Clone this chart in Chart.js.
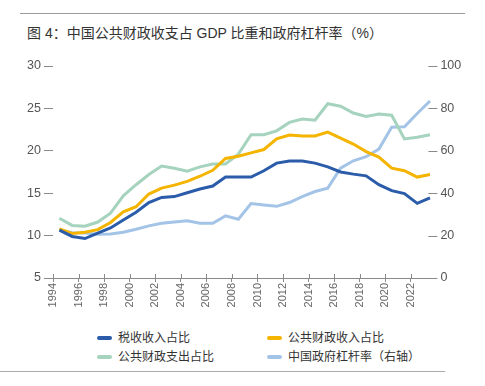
<!DOCTYPE html>
<html>
<head>
<meta charset="utf-8">
<script src="https://cdn.jsdelivr.net/npm/chart.js@4"></script>
<style>
  body { margin: 0; background: #fff; }
  #wrap { position: relative; width: 485px; height: 386px; overflow: hidden;
          font-family: 'Liberation Sans', 'Noto Sans CJK SC', sans-serif; }
  .rule { position: absolute; height: 1px; background: #9a9a9a; }
  #title { position: absolute; left: 27px; top: 24px; font-size: 14px; line-height: 18px; color: #333; white-space: nowrap; }
  #chart-box { position: absolute; left: 0; top: 40px; width: 485px; height: 285px; }
  .leg { position: absolute; font-size: 12px; line-height: 14px; color: #333; white-space: nowrap; }
  .leg i { display: inline-block; width: 15px; height: 4px; border-radius: 2px; vertical-align: middle; margin-right: 6px; position: relative; top: -1px; }
</style>
</head>
<body>
<div id="wrap">
  <div class="rule" style="left:20px; top:13px; width:445px;"></div>
  <div id="title">图 4：中国公共财政收支占 GDP 比重和政府杠杆率（%）</div>
  <div id="chart-box"><canvas id="fiscal-chart" width="485" height="285"></canvas></div>
  <div id="legend"></div>
  <div class="rule" style="left:0; top:371px; width:445px; background:#aaa;"></div>
</div>
<script>
// Data
const years = [1994, 1995, 1996, 1997, 1998, 1999, 2000, 2001, 2002, 2003,
               2004, 2005, 2006, 2007, 2008, 2009, 2010, 2011, 2012, 2013,
               2014, 2015, 2016, 2017, 2018, 2019, 2020, 2021, 2022, 2023];
const tickLabels = ['1994', '1996', '1998', '2000', '2002', '2004', '2006', '2008',
                    '2010', '2012', '2014', '2016', '2018', '2020', '2022'];

const taxShare = [10.65, 9.9, 9.65, 10.3, 10.9, 11.85, 12.75, 13.9, 14.5, 14.6,
                  15.05, 15.5, 15.85, 16.9, 16.9, 16.9, 17.65, 18.55, 18.8, 18.8,
                  18.55, 18.1, 17.5, 17.25, 17.05, 16.0, 15.3, 14.95, 13.8, 14.45];
const revenueShare = [10.8, 10.25, 10.4, 10.7, 11.55, 12.8, 13.4, 14.9, 15.6, 15.95,
                      16.4, 17.0, 17.7, 19.1, 19.35, 19.75, 20.15, 21.4, 21.85, 21.75,
                      21.75, 22.2, 21.5, 20.8, 19.9, 19.25, 17.95, 17.65, 16.9, 17.2];
const spendingShare = [12.05, 11.2, 11.1, 11.6, 12.65, 14.7, 16.0, 17.2, 18.2, 17.95,
                       17.6, 18.1, 18.45, 18.45, 19.6, 21.9, 21.9, 22.35, 23.35, 23.75,
                       23.6, 25.55, 25.25, 24.45, 24.05, 24.35, 24.2, 21.4, 21.6, 21.9];
const govLeverage = [22.8, 21.4, 21.2, 20.6, 20.8, 21.6, 23.0, 24.6, 25.8, 26.4,
                     27.0, 25.8, 25.8, 29.3, 27.7, 35.1, 34.4, 33.8, 35.6, 38.4,
                     40.8, 42.4, 51.8, 55.3, 57.2, 60.8, 71.1, 71.3, 77.6, 83.5];

const seriesNames = ['税收收入占比', '公共财政收入占比', '公共财政支出占比', '中国政府杠杆率（右轴）'];
const seriesColors = ['#2a5caa', '#f4b400', '#a5d3be', '#a3c4e6'];

const FONT = "'Liberation Sans', 'Noto Sans CJK SC', sans-serif";

function toPoints(values) {
    return values.map((v, i) => ({ x: years[i], y: v }));
}

// HTML legend, two columns
const legendPos = [[97, 331], [267, 331], [97, 350], [267, 350]];
const legendBox = document.getElementById('legend');
seriesNames.forEach((name, i) => {
    const d = document.createElement('div');
    d.className = 'leg';
    d.style.left = legendPos[i][0] + 'px';
    d.style.top = legendPos[i][1] + 'px';
    d.innerHTML = '<i style="background:' + seriesColors[i] + '"></i>' + name;
    legendBox.appendChild(d);
});

// short tick marks: x ticks crossing the axis, right-axis ticks pointing inward
const axisMarks = {
    id: 'axisMarks',
    afterDraw(chart) {
        const ctx = chart.ctx;
        const area = chart.chartArea;
        const xs = chart.scales.x;
        const yr = chart.scales.y1;
        ctx.save();
        ctx.strokeStyle = '#8a8a8a';
        ctx.lineWidth = 1;
        ctx.beginPath();
        xs.ticks.forEach(t => {
            const px = Math.round(xs.getPixelForValue(t.value)) + 0.5;
            ctx.moveTo(px, area.bottom - 4);
            ctx.lineTo(px, area.bottom);
        });
        yr.ticks.forEach(t => {
            const py = Math.round(yr.getPixelForValue(t.value)) + 0.5;
            ctx.moveTo(area.right - 8, py);
            ctx.lineTo(area.right + 1, py);
        });
        ctx.stroke();
        ctx.restore();
    }
};

const ctx = document.getElementById('fiscal-chart').getContext('2d');
const allSeries = [taxShare, revenueShare, spendingShare, govLeverage];

new Chart(ctx, {
    type: 'line',
    data: {
        datasets: allSeries.map((vals, i) => ({
            label: seriesNames[i],
            data: toPoints(vals),
            borderColor: seriesColors[i],
            backgroundColor: seriesColors[i],
            borderWidth: 3,
            pointRadius: 0,
            tension: 0,
            yAxisID: i === 3 ? 'y1' : 'y'
        }))
    },
    options: {
        responsive: false,
        animation: false,
        layout: { padding: { top: 26, left: 0, right: 0, bottom: 0 } },
        plugins: {
            legend: { display: false },
            title: { display: false },
            tooltip: { enabled: false }
        },
        scales: {
            x: {
                type: 'linear',
                min: years[0] - 0.5,
                max: years[years.length - 1] + 0.5,
                afterBuildTicks: (axis) => {
                    axis.ticks = tickLabels.map(l => ({ value: Number(l) - 0.5 }));
                },
                afterFit: (axis) => { axis.height = 47; },
                grid: { display: true, drawOnChartArea: false, drawTicks: true, tickLength: 4, color: '#8a8a8a' },
                border: { display: true, color: '#8a8a8a', width: 1 },
                ticks: {
                    autoSkip: false,
                    minRotation: 90,
                    maxRotation: 90,
                    padding: 1,
                    color: '#666',
                    font: { family: FONT, size: 11 },
                    callback: (value, index) => tickLabels[index] || ''
                }
            },
            y: {
                position: 'left',
                min: 5,
                max: 30,
                afterFit: (axis) => { axis.width = 53; },
                grid: { display: true, drawOnChartArea: false, drawTicks: true, tickLength: 9, color: '#8a8a8a' },
                border: { display: false },
                ticks: {
                    stepSize: 5,
                    padding: 3,
                    color: '#555',
                    font: { family: FONT, size: 12.5 }
                }
            },
            y1: {
                position: 'right',
                min: 0,
                max: 100,
                afterFit: (axis) => { axis.width = 48.6; },
                grid: { display: false, drawTicks: false },
                border: { display: false },
                ticks: {
                    stepSize: 20,
                    padding: 4,
                    color: '#555',
                    font: { family: FONT, size: 12.5 }
                }
            }
        }
    },
    plugins: [axisMarks]
});
</script>
</body>
</html>
